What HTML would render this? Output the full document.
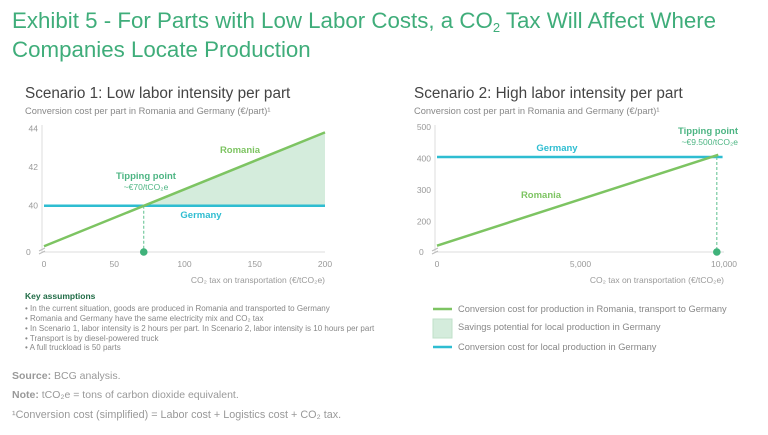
<!DOCTYPE html>
<html><head><meta charset="utf-8"><style>
html,body{margin:0;padding:0;background:#fff;width:768px;height:435px;overflow:hidden}
svg{display:block;font-family:"Liberation Sans",sans-serif}
</style></head><body>
<svg id="s" width="768" height="435" viewBox="0 0 768 435">
<text x="12" y="28" font-size="22.3" fill="#3fad7a">Exhibit 5 - For Parts with Low Labor Costs, a CO<tspan font-size="13" dy="4">2</tspan><tspan dy="-4"> Tax Will Affect Where</tspan></text>
<text x="12" y="57" font-size="22.3" fill="#3fad7a">Companies Locate Production</text>
<text x="25" y="98" font-size="15.3" fill="#444">Scenario 1: Low labor intensity per part</text>
<text x="25" y="114" font-size="9.3" fill="#888">Conversion cost per part in Romania and Germany (€/part)¹</text>
<text x="414" y="98" font-size="15.3" fill="#444">Scenario 2: High labor intensity per part</text>
<text x="414" y="114" font-size="9.3" fill="#888">Conversion cost per part in Romania and Germany (€/part)¹</text>
<g id="c1"></g><g id="c2"></g>
<text x="25" y="299" font-size="8.5" font-weight="bold" fill="#1f6b45">Key assumptions</text>
<g font-size="8" fill="#888">
<text x="25" y="311">• In the current situation, goods are produced in Romania and transported to Germany</text>
<text x="25" y="321">• Romania and Germany have the same electricity mix and CO₂ tax</text>
<text x="25" y="331">• In Scenario 1, labor intensity is 2 hours per part. In Scenario 2, labor intensity is 10 hours per part</text>
<text x="25" y="341">• Transport is by diesel-powered truck</text>
<text x="25" y="350">• A full truckload is 50 parts</text>
</g>
<text x="12" y="379" font-size="10.5" fill="#999"><tspan font-weight="bold">Source:</tspan> BCG analysis.</text>
<text x="12" y="398" font-size="10.5" fill="#999"><tspan font-weight="bold">Note:</tspan> tCO₂e = tons of carbon dioxide equivalent.</text>
<text x="12" y="418" font-size="10.8" fill="#999">¹Conversion cost (simplified) = Labor cost + Logistics cost + CO₂ tax.</text>
<g>
<line x1="433" y1="309" x2="452" y2="309" stroke="#7dc462" stroke-width="2.5"/>
<text x="458" y="312" font-size="9.3" fill="#888">Conversion cost for production in Romania, transport to Germany</text>
<rect x="433" y="319" width="19" height="19" fill="#d4ecdc" stroke="#bfe0c9"/>
<text x="458" y="330" font-size="9.3" fill="#888">Savings potential for local production in Germany</text>
<line x1="433" y1="347" x2="452" y2="347" stroke="#2ebdd1" stroke-width="2.5"/>
<text x="458" y="350" font-size="9.3" fill="#888">Conversion cost for local production in Germany</text>
</g>
</svg>
<script>
const NS="http://www.w3.org/2000/svg";
// Scenario 1 data
const s1XTicks=[0,50,100,150,200];
const s1YTicks=[40,42,44];
const s1RomaniaX=[0,200];
const s1RomaniaY=[37.9,43.8];
const s1GermanyY=[40];
const s1Tipping=[71];
// Scenario 2 data
const s2XTicks=[0,5000,10000];
const s2XLabels=["0","5,000","10,000"];
const s2YTicks=[200,300,400,500];
const s2RomaniaX=[0,9800];
const s2RomaniaY=[124,412];
const s2GermanyX=[0,9950];
const s2GermanyY=[405];
const s2Tipping=[9750];

function mk(p,tag,a,txt){const e=document.createElementNS(NS,tag);for(const k in a)e.setAttribute(k,a[k]);if(txt!==undefined)e.textContent=txt;p.appendChild(e);return e;}

function chart(g,o){
  const X=v=>o.x0+(v-o.xd[0])/(o.xd[1]-o.xd[0])*(o.x1-o.x0);
  const Y=v=>o.yb-(v-o.yd0)*o.k;
  const base=252;
  let e=mk(g,"line",{x1:o.x0-2,y1:125,x2:o.x0-2,y2:base,stroke:"#ddd"});
  
  
  e=mk(g,"line",{x1:o.x0-2,y1:base,x2:o.x1,y2:base,stroke:"#ddd"});
  
  
  mk(g,"text",{x:o.x0-18,y:base+3,"font-size":8.5,fill:"#999"},"0");
  mk(g,"path",{d:`M${o.x0-5} ${base-1} l6 -3 M${o.x0-5} ${base+2} l6 -3`,stroke:"#bbb",fill:"none"});
  o.yt.forEach(v=>{e=mk(g,"text",{x:o.x0-6,y:Y(v)+3,"font-size":8.5,fill:"#999","text-anchor":"end"},String(v));
    
    });
  o.xt.forEach((v,i)=>{e=mk(g,"text",{x:X(v),y:base+15,"font-size":8.5,fill:"#999","text-anchor":"middle"},o.xl?o.xl[i]:String(v));
    
    });
  e=mk(g,"text",{x:o.x1,y:base+31,"font-size":8.5,fill:"#999","text-anchor":"end"},"CO₂ tax on transportation (€/tCO₂e)");
  
  
  const gy=o.gy[0];
  if(o.area){
    const xc=o.tp[0];
    e=mk(g,"polygon",{points:`${X(xc)},${Y(gy)} ${X(o.rx[1])},${Y(o.ry[1])} ${X(o.rx[1])},${Y(gy)}`,fill:"#d4ecdc"});
    
    
  }
  e=mk(g,"line",{x1:X(o.gx[0]),y1:Y(gy),x2:X(o.gx[1]),y2:Y(gy),stroke:"#2ebdd1","stroke-width":2.5});
  
  
  e=mk(g,"line",{x1:X(o.rx[0]),y1:Y(o.ry[0]),x2:X(o.rx[1]),y2:Y(o.ry[1]),stroke:"#7dc462","stroke-width":2.5});
  
  
  const tx=X(o.tp[0]);
  e=mk(g,"line",{x1:tx,y1:Y(gy),x2:tx,y2:base,stroke:"#5cc08e","stroke-dasharray":"3,2"});
  
  
  e=mk(g,"circle",{cx:tx,cy:base,r:3.8,fill:"#3fb27a"});
  
  
}
const c1=document.getElementById("c1"),c2=document.getElementById("c2");
chart(c1,{x0:44,x1:325,xd:[0,200],yb:205.7,yd0:40,k:19.3,xt:s1XTicks,yt:s1YTicks,rx:s1RomaniaX,ry:s1RomaniaY,gx:[0,200],gy:s1GermanyY,tp:s1Tipping,area:true});
let t=mk(c1,"text",{x:240,y:153,"font-size":9.5,"font-weight":"bold",fill:"#7dc462","text-anchor":"middle"},"Romania");


t=mk(c1,"text",{x:201,y:218,"font-size":9.5,"font-weight":"bold",fill:"#2ebdd1","text-anchor":"middle"},"Germany");


t=mk(c1,"text",{x:146,y:179,"font-size":9.5,"font-weight":"bold",fill:"#4db583","text-anchor":"middle"},"Tipping point");


t=mk(c1,"text",{x:146,y:190,"font-size":8.5,fill:"#4db583","text-anchor":"middle"},"~€70/tCO₂e");


chart(c2,{x0:437,x1:724,xd:[0,10000],yb:221.7,yd0:200,k:0.3155,xt:s2XTicks,xl:s2XLabels,yt:s2YTicks,rx:s2RomaniaX,ry:s2RomaniaY,gx:s2GermanyX,gy:s2GermanyY,tp:s2Tipping,area:false});
t=mk(c2,"text",{x:557,y:151,"font-size":9.5,"font-weight":"bold",fill:"#2ebdd1","text-anchor":"middle"},"Germany");


t=mk(c2,"text",{x:541,y:198,"font-size":9.5,"font-weight":"bold",fill:"#7dc462","text-anchor":"middle"},"Romania");


t=mk(c2,"text",{x:738,y:134,"font-size":9.5,"font-weight":"bold",fill:"#4db583","text-anchor":"end"},"Tipping point");


t=mk(c2,"text",{x:738,y:145,"font-size":8.5,fill:"#4db583","text-anchor":"end"},"~€9.500/tCO₂e");


</script>
</body></html>
